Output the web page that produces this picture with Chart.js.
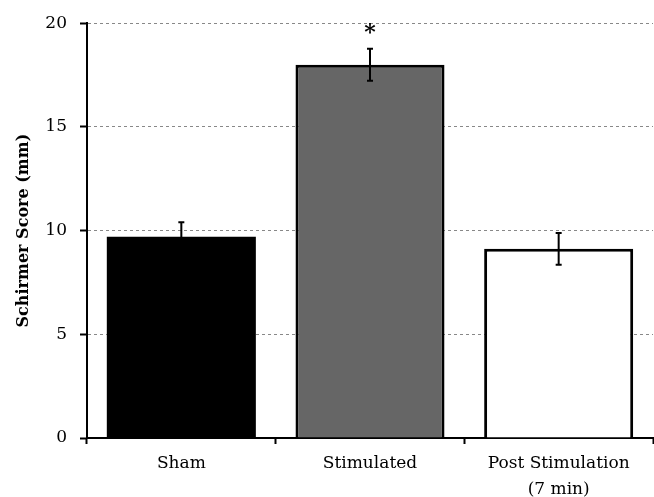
<!DOCTYPE html>
<html>
<head>
<meta charset="utf-8">
<script src="https://cdn.jsdelivr.net/npm/chart.js@4.4.1/dist/chart.umd.min.js"></script>
<style>
  html, body { margin: 0; padding: 0; background: #fff; }
  #wrap { width: 654px; height: 497px; }
</style>
</head>
<body>
<div id="wrap"><canvas id="myChart"></canvas></div>
<script>
const groups = ["Sham", "Stimulated", ["Post Stimulation", "(7 min)"]];
const means = [9.7, 18.0, 9.12];
const errors = [0.7, 0.77, 0.77];
const marks = ["", "*", ""];
const fillColors = ["#000000", "#666666", "#ffffff"];
const outlineWidths = [0, 3, 3];
const yTicks = [0, 5, 10, 15, 20];

const serif = "'DejaVu Serif', serif";

// error bars + significance stars, placed through the scales
const errorBars = {
    id: "errorBars",
    afterDatasetsDraw(chart) {
        const ctx = chart.ctx;
        const y = chart.scales.y;
        const meta = chart.getDatasetMeta(0);
        ctx.save();
        ctx.strokeStyle = "#000";
        ctx.lineWidth = 2;
        meta.data.forEach(function (bar, i) {
            const top = y.getPixelForValue(means[i] + errors[i]);
            const bot = y.getPixelForValue(means[i] - errors[i]);
            ctx.beginPath();
            ctx.moveTo(bar.x, top);
            ctx.lineTo(bar.x, bot);
            ctx.moveTo(bar.x - 3, top);
            ctx.lineTo(bar.x + 3, top);
            ctx.moveTo(bar.x - 3, bot);
            ctx.lineTo(bar.x + 3, bot);
            ctx.stroke();
            if (marks[i]) {
                ctx.fillStyle = "#000";
                ctx.font = "bold 22px " + serif;
                ctx.textAlign = "center";
                ctx.textBaseline = "middle";
                ctx.fillText(marks[i], bar.x, top - 15);
            }
        });
        ctx.restore();
    }
};

new Chart("myChart", {
    type: "bar",
    data: {
        labels: groups,
        datasets: [{
            data: means,
            backgroundColor: fillColors,
            borderColor: "#000",
            borderWidth: outlineWidths,
            borderSkipped: "bottom",
            categoryPercentage: 1,
            barPercentage: 0.79
        }]
    },
    plugins: [errorBars],
    options: {
        responsive: true,
        maintainAspectRatio: false,
        animation: false,
        layout: { padding: { top: 12, right: 1, left: 0, bottom: 0 } },
        plugins: {
            legend: { display: false },
            tooltip: { enabled: false }
        },
        scales: {
            x: {
                offset: true,
                afterFit(scale) { scale.height = 59; },
                grid: {
                    offset: true,
                    drawOnChartArea: false,
                    drawTicks: true,
                    tickLength: 6,
                    tickColor: "#000",
                    tickWidth: 2
                },
                border: { color: "#000", width: 2 },
                ticks: {
                    color: "#000",
                    font: { family: serif, size: 17, lineHeight: 1.5 },
                    padding: 7,
                    maxRotation: 0
                }
            },
            y: {
                min: 0,
                max: 20,
                afterFit(scale) { scale.width = 87; },
                afterBuildTicks(scale) {
                    scale.ticks = yTicks.map(v => ({ value: v }));
                },
                grid: {
                    color: "#888",
                    lineWidth: 1,
                    tickColor: "#000",
                    tickWidth: 2,
                    tickLength: 7,
                    tickBorderDash: []
                },
                border: { color: "#000", width: 2, dash: [3, 3] },
                ticks: {
                    color: "#000",
                    font: { family: serif, size: 17 },
                    padding: 13
                },
                title: {
                    display: true,
                    text: "Schirmer Score (mm)",
                    color: "#000",
                    font: { family: serif, size: 16, weight: "bold" },
                    padding: { top: 14, bottom: 0 }
                }
            }
        }
    }
});
</script>
</body>
</html>
